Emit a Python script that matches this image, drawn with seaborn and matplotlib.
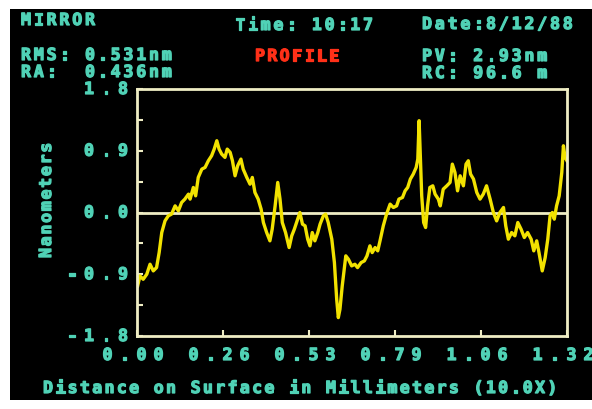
import numpy as np
import pandas as pd
import seaborn as sns
import matplotlib.pyplot as plt
import matplotlib.patheffects as pe
from matplotlib.patches import Rectangle
from matplotlib.transforms import offset_copy

# =========================
# DATA
# =========================
distance_mm = [
    0.002, 0.009, 0.019, 0.030, 0.040, 0.050, 0.060, 0.068, 0.076, 0.086,
    0.096, 0.106, 0.117, 0.127, 0.137, 0.147, 0.158, 0.163, 0.173, 0.180,
    0.188, 0.199, 0.209, 0.219, 0.229, 0.237, 0.245, 0.252, 0.260, 0.270,
    0.277, 0.286, 0.293, 0.301, 0.309, 0.319, 0.326, 0.337, 0.347, 0.354,
    0.362, 0.372, 0.381, 0.388, 0.398, 0.408, 0.415, 0.424, 0.432, 0.439,
    0.446, 0.456, 0.467, 0.475, 0.483, 0.493, 0.500, 0.508, 0.516, 0.524,
    0.531, 0.538, 0.546, 0.555, 0.562, 0.572, 0.579, 0.587, 0.598, 0.606,
    0.613, 0.618, 0.623, 0.630, 0.641, 0.649, 0.659, 0.669, 0.677, 0.688,
    0.698, 0.706, 0.715, 0.722, 0.731, 0.739, 0.746, 0.756, 0.766, 0.777,
    0.787, 0.797, 0.804, 0.815, 0.823, 0.831, 0.839, 0.848, 0.857, 0.862,
    0.866, 0.870, 0.874, 0.880, 0.886, 0.892, 0.899, 0.908, 0.915, 0.925,
    0.931, 0.940, 0.951, 0.961, 0.968, 0.976, 0.984, 0.992, 1.002, 1.010,
    1.017, 1.024, 1.033, 1.043, 1.053, 1.063, 1.073, 1.084, 1.094, 1.104,
    1.114, 1.125, 1.132, 1.140, 1.150, 1.160, 1.169, 1.179, 1.189, 1.199,
    1.210, 1.218, 1.227, 1.234, 1.244, 1.253, 1.261, 1.268, 1.275, 1.281,
    1.288, 1.296, 1.304, 1.309, 1.314, 1.320,
]
height_nm = [
    -1.070, -0.924, -0.973, -0.900, -0.754, -0.851, -0.803, -0.584, -0.292, -0.122,
    -0.049, -0.024, 0.097, 0.024, 0.146, 0.195, 0.268, 0.195, 0.365, 0.243,
    0.511, 0.632, 0.657, 0.754, 0.827, 0.924, 1.046, 0.924, 0.851, 0.803,
    0.924, 0.876, 0.754, 0.535, 0.681, 0.778, 0.632, 0.511, 0.413, 0.511,
    0.292, 0.195, 0.049, -0.146, -0.292, -0.413, -0.243, 0.097, 0.438, 0.195,
    -0.146, -0.292, -0.511, -0.340, -0.243, -0.097, 0.000, -0.170, -0.195, -0.389,
    -0.486, -0.292, -0.413, -0.292, -0.170, -0.049, -0.024, -0.146, -0.389, -0.730,
    -1.265, -1.532, -1.411, -1.070, -0.632, -0.681, -0.778, -0.754, -0.803, -0.730,
    -0.705, -0.632, -0.486, -0.584, -0.511, -0.559, -0.413, -0.195, -0.024, 0.122,
    0.073, 0.097, 0.195, 0.219, 0.316, 0.365, 0.486, 0.559, 0.657, 0.778,
    1.338, 0.778, 0.243, -0.146, -0.219, 0.097, 0.365, 0.389, 0.268, 0.195,
    0.097, 0.340, 0.389, 0.438, 0.705, 0.584, 0.316, 0.535, 0.389, 0.705,
    0.754, 0.559, 0.486, 0.292, 0.195, 0.268, 0.389, 0.195, 0.000, -0.122,
    0.000, 0.073, -0.195, -0.389, -0.292, -0.340, -0.146, -0.243, -0.365, -0.292,
    -0.389, -0.559, -0.413, -0.584, -0.851, -0.657, -0.389, -0.049, 0.000, -0.097,
    0.097, 0.243, 0.584, 0.973, 0.803, 0.754,
]

x_ticks = [0.0, 0.264, 0.528, 0.792, 1.056, 1.32]
x_labels = ["0.00", "0.26", "0.53", "0.79", "1.06", "1.32"]
y_ticks = [1.8, 0.9, 0.0, -0.9, -1.8]
y_labels = ["1.8", "0.9", "0.0", "-0.9", "-1.8"]
y_minor = [1.35, 0.45, -0.45, -1.35]

sample = "MIRROR"
time_str = "10:17"
date_str = "8/12/88"
rms, ra = "0.531nm", "0.436nm"
pv, rc = "2.93nm", "96.6 m"

# =========================
# VISUAL SETTINGS
# =========================
TEAL = "#50d2b6"
YELLOW = "#f2e200"
CREAM = "#efedc4"
RED = "#ff3018"
FONT = dict(family="DejaVu Sans Mono", weight="bold", fontsize=12)

W, H = 592, 410
fig = plt.figure(figsize=(W / 100, H / 100), dpi=100)
fig.patch.set_facecolor("white")
# the black CRT screen inside the white photo border
fig.add_artist(Rectangle((10 / W, 1 - 401 / H), (W - 10) / W, 391 / H,
                         transform=fig.transFigure, facecolor="black",
                         edgecolor="none", zorder=-1))


def px(xp, yp):
    # pixel position measured from top-left -> figure fraction
    return xp / W, 1 - yp / H


def crt(x, y, s, transform, pitch=12.8, dx=0.0, dy=0.0, vertical=False, color=TEAL):
    # old terminal font has wide fixed cells, so place glyph by glyph
    for i, ch in enumerate(s):
        if ch == " ":
            continue
        step = i * pitch
        tr = offset_copy(transform, fig=fig, units="dots",
                         x=dx + (0 if vertical else step),
                         y=dy + (step if vertical else 0))
        fig.text(x, y, ch, transform=tr, ha="center", va="center",
                 rotation=90 if vertical else 0, color=color,
                 path_effects=[pe.withStroke(linewidth=0.9, foreground=color)],
                 **FONT)


# =========================
# PLOT
# =========================
ax = fig.add_axes([137 / W, 1 - 337 / H, 430 / W, 247 / H])
ax.set_facecolor("black")

df = pd.DataFrame({"mm": distance_mm, "nm": height_nm})
ax.axhline(0, color=CREAM, lw=2, zorder=1)
sns.lineplot(data=df, x="mm", y="nm", ax=ax, color=YELLOW, lw=2.4,
             estimator=None, sort=False, zorder=2)

ax.set_xlim(0, 1.32)
ax.set_ylim(-1.8, 1.8)
ax.set_xticks(x_ticks)
ax.set_yticks(y_ticks + y_minor)
ax.tick_params(direction="in", length=4, width=1.5, color=CREAM,
               labelleft=False, labelbottom=False)
ax.set_xlabel("")
ax.set_ylabel("")
for sp in ax.spines.values():
    sp.set_color(CREAM)
    sp.set_linewidth(2)

# tick labels
for v, lab in zip(y_ticks, y_labels):
    crt(0, v, lab, ax.transData, pitch=17, dx=-14 - (len(lab) - 1) * 17)
for v, lab in zip(x_ticks, x_labels):
    crt(v, -1.8, lab, ax.transData, pitch=17, dx=-4 - 1.5 * 17, dy=-19)

# header block
crt(*px(26, 21), sample, fig.transFigure)
crt(*px(240, 26), "Time: " + time_str, fig.transFigure)
crt(*px(427, 25), "Date:" + date_str, fig.transFigure)
crt(*px(26, 56), "RMS: " + rms, fig.transFigure)
crt(*px(26, 73), "RA:  " + ra, fig.transFigure)
crt(*px(260, 57), "PROFILE", fig.transFigure, pitch=12.3, color=RED)
crt(*px(427, 57), "PV: " + pv, fig.transFigure)
crt(*px(427, 74), "RC: " + rc, fig.transFigure)

# axis titles
crt(*px(48, 389), "Distance on Surface in Millimeters (10.0X)", fig.transFigure, pitch=12.3)
crt(*px(46, 254), "Nanometers", fig.transFigure, pitch=11.7, vertical=True)

plt.savefig("out.png", dpi=100, facecolor=fig.get_facecolor())
